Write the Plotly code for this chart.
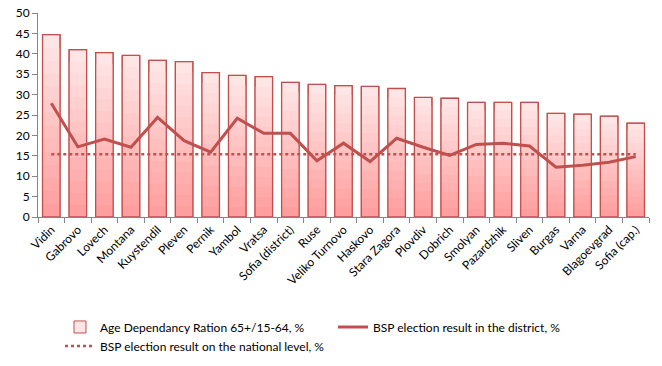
import plotly.graph_objects as go

districts = ["Vidin", "Gabrovo", "Lovech", "Montana", "Kuystendil", "Pleven", "Pernik",
             "Yambol", "Vratsa", "Sofia (district)", "Ruse", "Veliko Turnovo", "Haskovo",
             "Stara Zagora", "Plovdiv", "Dobrich", "Smolyan", "Pazardzhik", "Sliven",
             "Burgas", "Varna", "Blagoevgrad", "Sofia (cap.)"]
dependency_ratio = [44.7, 41.0, 40.3, 39.6, 38.4, 38.1, 35.4, 34.7, 34.4, 33.0, 32.5,
                    32.2, 32.0, 31.5, 29.3, 29.1, 28.1, 28.1, 28.1, 25.4, 25.2, 24.7, 23.0]
bsp_district = [27.9, 17.2, 19.1, 17.1, 24.4, 18.7, 15.9, 24.2, 20.5, 20.5, 13.8,
                18.1, 13.6, 19.3, 17.1, 15.1, 17.8, 18.1, 17.4, 12.2, 12.7, 13.4, 14.8]
bsp_national = [15.4] * len(districts)

RED = "#C0504D"
FONT = "Lato"

fig = go.Figure()

# gradient bars: lightest full bar first, then progressively darker shorter overlays
top = (255, 230, 230)
bottom = (255, 158, 158)
steps = 14
fig.add_trace(go.Bar(
    x=districts, y=dependency_ratio, name="Age Dependancy Ration 65+/15-64, %",
    marker=dict(color="rgb(%d,%d,%d)" % top, line=dict(color=RED, width=1)),
    legendrank=1,
))
for k in range(1, steps):
    f = k / (steps - 1)
    c = tuple(round(top[i] + (bottom[i] - top[i]) * f) for i in range(3))
    frac = 1 - k / steps
    fig.add_trace(go.Bar(
        x=districts, y=[v * frac for v in dependency_ratio],
        marker=dict(color="rgb(%d,%d,%d)" % c, line=dict(width=0)),
        showlegend=False, hoverinfo="skip",
    ))
fig.add_trace(go.Bar(
    x=districts, y=dependency_ratio,
    marker=dict(color="rgba(0,0,0,0)", line=dict(color=RED, width=1.3)),
    showlegend=False, hoverinfo="skip",
))

fig.add_trace(go.Scatter(
    x=districts, y=bsp_district, mode="lines", name="BSP election result in the district, %",
    line=dict(color=RED, width=3), legendrank=2,
))
fig.add_trace(go.Scatter(
    x=districts, y=bsp_national, mode="lines", name="BSP election result on the national level, %",
    line=dict(color=RED, width=2.5, dash="dot"), legendrank=3,
))

fig.update_layout(
    width=662, height=366,
    margin=dict(l=38, r=13, t=13, b=149, autoexpand=False),
    paper_bgcolor="white", plot_bgcolor="white",
    barmode="overlay", bargap=0.34,
    font=dict(family=FONT, size=12, color="black"),
    legend=dict(orientation="h", x=0.036, y=-0.468, xanchor="left", yanchor="top",
                entrywidth=228, entrywidthmode="pixels",
                font=dict(family=FONT, size=12, color="black"),
                traceorder="normal", tracegroupgap=4),
    showlegend=True,
)
fig.update_xaxes(
    type="category", tickangle=-45, showline=True, linecolor="#868686", linewidth=1,
    ticks="outside", ticklen=5, tickcolor="#868686", tickson="boundaries",
    showgrid=False, tickfont=dict(family=FONT, size=12, color="black"), automargin=False,
)
fig.update_yaxes(
    range=[0, 50], dtick=5, showline=True, linecolor="#868686", linewidth=1,
    ticks="outside", ticklen=5, tickcolor="#868686", showgrid=False, zeroline=False,
    tickfont=dict(family=FONT, size=12, color="black"), automargin=False,
)

fig.write_html("out.html", config={"displayModeBar": False},
               post_script="document.body.style.margin='0';")
